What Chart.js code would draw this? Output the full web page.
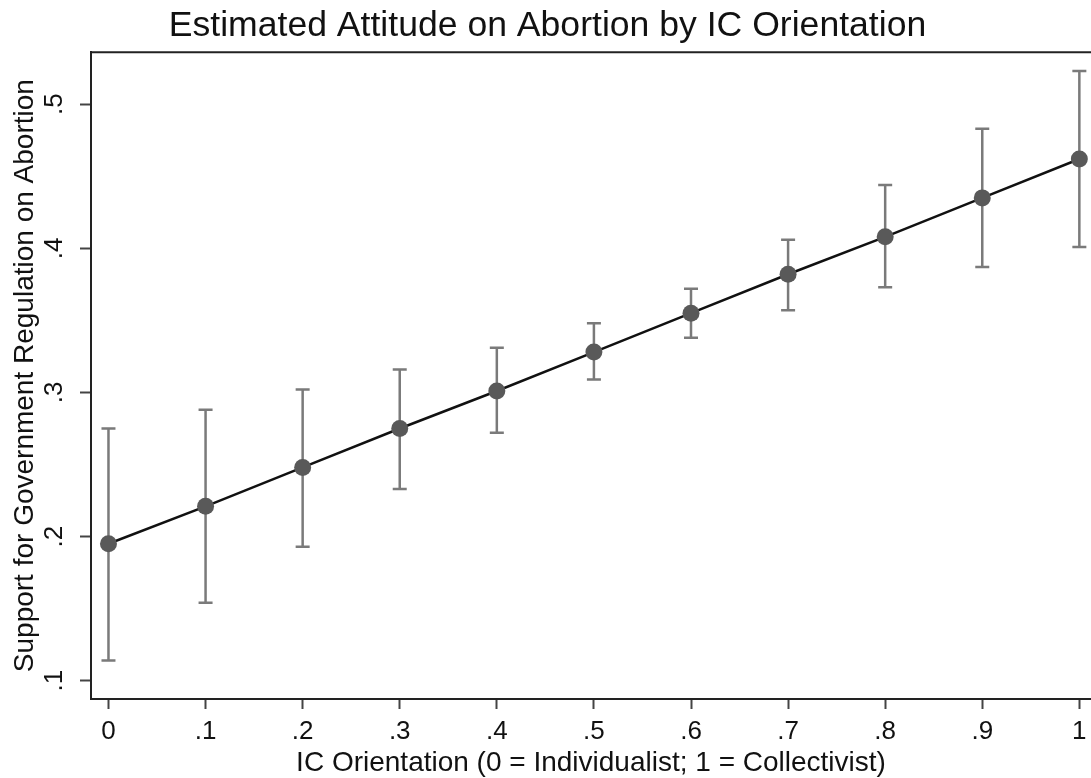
<!DOCTYPE html>
<html>
<head>
<meta charset="utf-8">
<title>Estimated Attitude on Abortion by IC Orientation</title>
<script src="https://cdn.jsdelivr.net/npm/chart.js@4"></script>
<style>
  html, body { margin: 0; padding: 0; background: #fff; overflow: hidden; }
  #wrap { width: 1091px; height: 778px; }
</style>
</head>
<body>
<div id="wrap"><canvas id="icChart"></canvas></div>
<script>
// predicted support by IC orientation, with 95% CI bounds
const icLevels = [0, 0.1, 0.2, 0.3, 0.4, 0.5, 0.6, 0.7, 0.8, 0.9, 1];
const estimate = [0.195, 0.221, 0.248, 0.275, 0.301, 0.328, 0.355, 0.382, 0.408, 0.435, 0.462];
const ciLower = [0.114, 0.154, 0.193, 0.233, 0.272, 0.309, 0.338, 0.357, 0.373, 0.387, 0.401];
const ciUpper = [0.275, 0.288, 0.302, 0.316, 0.331, 0.348, 0.372, 0.406, 0.444, 0.483, 0.523];
const xTicks = [0, 0.1, 0.2, 0.3, 0.4, 0.5, 0.6, 0.7, 0.8, 0.9, 1];
const yTicks = [0.1, 0.2, 0.3, 0.4, 0.5];

const FONT = "'Liberation Sans', Arial, Helvetica, sans-serif";

// stata style labels: ".5" instead of "0.5"
function fmt(v) {
    const s = String(Math.round(v * 10) / 10);
    return s.startsWith('0.') ? s.slice(1) : s;
}

// CI spikes with caps, drawn under the line and markers
const errorBars = {
    id: 'errorBars',
    beforeDatasetsDraw(chart) {
        const { ctx, scales: { x, y } } = chart;
        ctx.save();
        ctx.strokeStyle = '#7a7a7a';
        ctx.lineWidth = 2.5;
        icLevels.forEach((v, i) => {
            const px = x.getPixelForValue(v);
            const top = y.getPixelForValue(ciUpper[i]);
            const bot = y.getPixelForValue(ciLower[i]);
            ctx.beginPath();
            ctx.moveTo(px, top); ctx.lineTo(px, bot);
            ctx.moveTo(px - 7, top); ctx.lineTo(px + 7, top);
            ctx.moveTo(px - 7, bot); ctx.lineTo(px + 7, bot);
            ctx.stroke();
        });
        ctx.restore();
    }
};

// top edge of the plot region
const topFrame = {
    id: 'topFrame',
    afterDraw(chart) {
        const { ctx, chartArea } = chart;
        ctx.save();
        ctx.strokeStyle = '#222';
        ctx.lineWidth = 2;
        ctx.beginPath();
        ctx.moveTo(chartArea.left - 1, chartArea.top);
        ctx.lineTo(chartArea.right + 2, chartArea.top);
        ctx.stroke();
        ctx.restore();
    }
};

new Chart(document.getElementById('icChart'), {
    type: 'line',
    data: {
        datasets: [{
            data: icLevels.map((v, i) => ({ x: v, y: estimate[i] })),
            borderColor: '#111',
            borderWidth: 2.5,
            pointRadius: 8.5,
            pointBackgroundColor: '#595959',
            pointBorderWidth: 0,
            tension: 0,
            clip: false
        }]
    },
    options: {
        responsive: true,
        maintainAspectRatio: false,
        animation: false,
        layout: { autoPadding: false, padding: { top: 0, right: 0, left: 4, bottom: 0 } },
        plugins: {
            legend: { display: false },
            tooltip: { enabled: false },
            title: {
                display: true,
                text: 'Estimated Attitude on Abortion by IC Orientation',
                color: '#111',
                font: { family: FONT, size: 35.6, weight: 'normal', lineHeight: 1.2 },
                padding: { top: 5, bottom: 4.6 }
            }
        },
        scales: {
            x: {
                type: 'linear',
                min: -0.018,
                max: 1.012,
                afterBuildTicks: s => { s.ticks = xTicks.map(v => ({ value: v })); },
                afterFit: s => { s.paddingRight = 0; s.paddingLeft = 0; s.height = 79; },
                ticks: {
                    callback: v => fmt(v),
                    color: '#111',
                    font: { family: FONT, size: 26, lineHeight: 1.2 },
                    padding: 7.5,
                    maxRotation: 0
                },
                grid: { drawOnChartArea: false, tickLength: 10, tickColor: '#444', tickWidth: 2 },
                border: { color: '#222', width: 2 },
                title: {
                    display: true,
                    text: 'IC Orientation (0 = Individualist; 1 = Collectivist)',
                    color: '#111',
                    font: { family: FONT, size: 28, lineHeight: 0.8 },
                    padding: { top: 1.3, bottom: 3.5 }
                }
            },
            y: {
                type: 'linear',
                min: 0.0873,
                max: 0.536,
                afterBuildTicks: s => { s.ticks = yTicks.map(v => ({ value: v })); },
                afterFit: s => { s.width = 87; },
                ticks: {
                    callback: v => fmt(v),
                    color: '#111',
                    font: { family: FONT, size: 26 },
                    minRotation: 90,
                    maxRotation: 90,
                    crossAlign: 'center',
                    padding: 14
                },
                grid: { drawOnChartArea: false, tickLength: 11, tickColor: '#444', tickWidth: 2 },
                border: { color: '#222', width: 2 },
                title: {
                    display: true,
                    text: 'Support for Government Regulation on Abortion',
                    color: '#111',
                    font: { family: FONT, size: 28, lineHeight: 1.2 },
                    padding: { top: 4.2, bottom: 2.5 }
                }
            }
        }
    },
    plugins: [errorBars, topFrame]
});
</script>
</body>
</html>
